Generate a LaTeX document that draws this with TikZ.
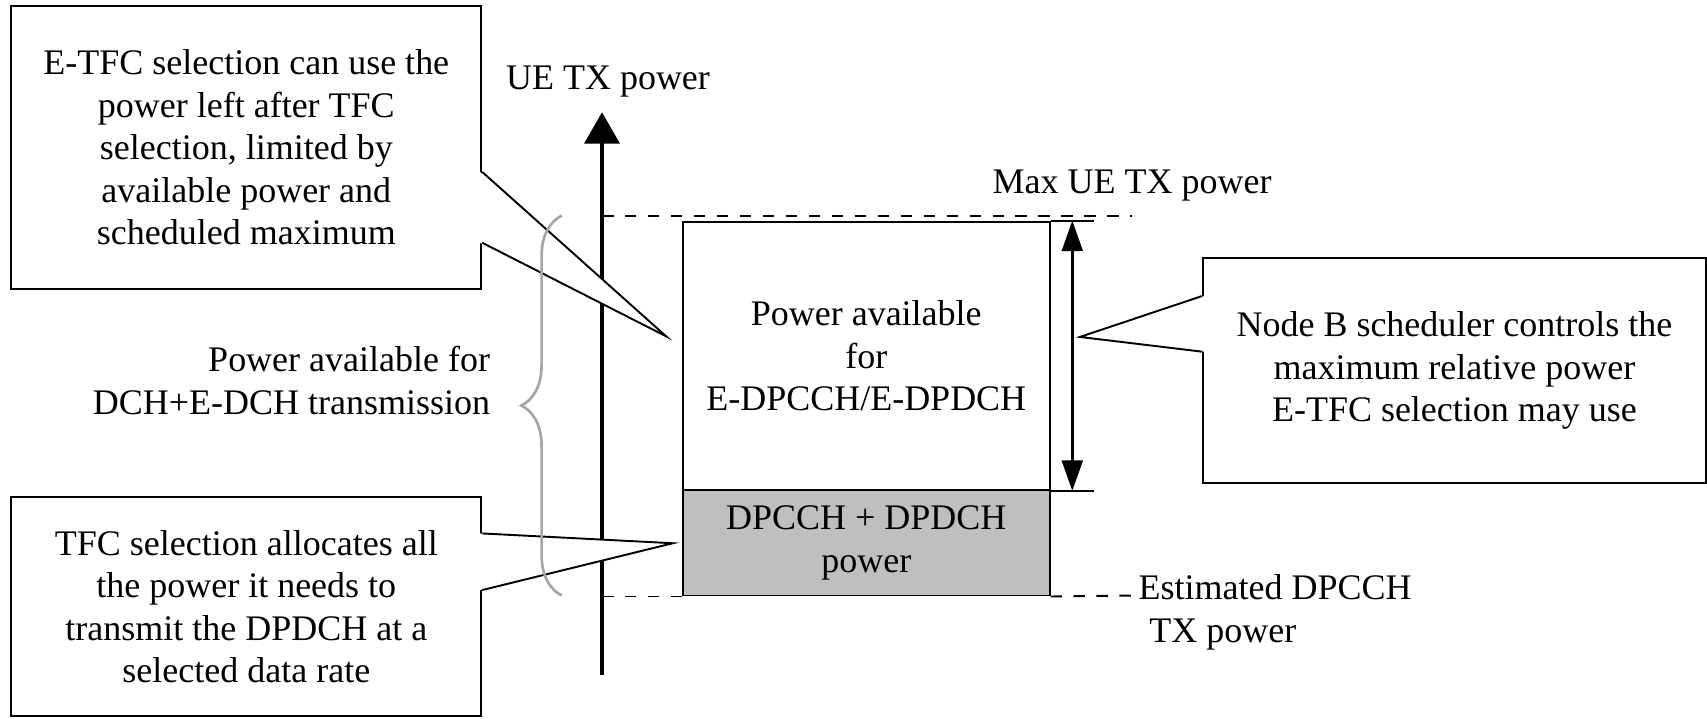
\documentclass[tikz,border=0pt]{standalone}
\usepackage{fontspec}
\setmainfont{Liberation Serif}
\usetikzlibrary{arrows.meta,calc,decorations.pathreplacing}

\begin{document}
\begin{tikzpicture}[x=0.01cm,y=-0.01cm,line width=0.5pt,font=\fontsize{9.4}{11.1}\selectfont,
box/.style={draw,align=center,inner sep=0pt},
note/.style={box,fill=white},
lbl/.style={inner sep=0pt},
tail/.style={fill=white},
guide/.style={dashed},
axis/.style={-{Triangle[length=0.29cm,width=0.32cm]},line width=1.2pt},
span/.style={{Triangle[length=0.28cm,width=0.19cm]}-{Triangle[length=0.28cm,width=0.19cm]},line width=0.8pt},
brace/.style={decorate,decoration={brace,amplitude=0.37cm},draw=black!35,line width=0.7pt}]
\useasboundingbox (0,0) rectangle (1568,660);
\coordinate (ybot) at (553,620);
\coordinate (ytop) at (553,103);
\draw[axis] (ybot)--(ytop);
\node[lbl,anchor=west] (ylabel) at (464,75) {UE TX power};
\node[box,minimum width=3.365cm,minimum height=2.464cm] (epwr) at (795.75,326.8) {Power available\\for\\E-DPCCH/E-DPDCH};
\node[box,fill=black!25,minimum width=3.365cm,minimum height=0.97cm] (dpwr) at (795.75,498.5) {DPCCH + DPDCH\\power};
\coordinate (maxend) at (1040,198);
\coordinate (estend) at (1042,547);
\draw[guide] (ytop |- maxend)--(maxend);
\draw[guide] (ytop |- dpwr.south)--(dpwr.south west);
\draw[guide] (dpwr.south east)--(estend);
\node[lbl,anchor=west] (maxlbl) at (911,170) {Max UE TX power};
\node[lbl,anchor=west,align=left] (estlbl) at (1045,562.5) {Estimated DPCCH\\\hspace*{0.1cm}TX power};
\draw (epwr.north east)--+(40,0);
\draw (epwr.south east)--+(40,0);
\draw[span] ([xshift=0.2cm]epwr.north east)--([xshift=0.2cm]epwr.south east);
\node[note,minimum width=4.315cm,minimum height=2.595cm] (etfc) at (226.25,135.25) {E-TFC selection can use the\\power left after TFC\\selection, limited by\\available power and\\scheduled maximum};
\coordinate (etfctip) at (612,309);
\fill[tail] ($(etfc.east |- 0,158)+(-2,0)$)--(etfctip)--($(etfc.east |- 0,223)+(-2,0)$)--cycle;
\draw (etfc.east |- 0,158)--(etfctip)--(etfc.east |- 0,223);
\node[note,minimum width=4.315cm,minimum height=2.015cm] (tfc) at (226.25,557.25) {TFC selection allocates all\\the power it needs to\\transmit the DPDCH at a\\selected data rate};
\coordinate (tfctip) at (618,499);
\fill[tail] ($(tfc.east |- 0,490)+(-2,0)$)--(tfctip)--($(tfc.east |- 0,542)+(-2,0)$)--cycle;
\draw (tfc.east |- 0,490)--(tfctip)--(tfc.east |- 0,542);
\node[note,minimum width=4.62cm,minimum height=2.066cm] (nodeb) at (1336,340.3) {Node B scheduler controls the\\maximum relative power\\E-TFC selection may use};
\coordinate (nodebtip) at (992,309.5);
\fill[tail] ($(nodeb.west |- 0,272)+(2,0)$)--(nodebtip)--($(nodeb.west |- 0,323)+(2,0)$)--cycle;
\draw (nodeb.west |- 0,272)--(nodebtip)--(nodeb.west |- 0,323);
\coordinate (bracetop) at (516,198);
\coordinate (bracebot) at (516,547);
\draw[brace] (bracebot)--(bracetop);
\node[lbl,anchor=east,align=right] (dchlbl) at (451,349.5) {Power available for\\DCH+E-DCH transmission};
\end{tikzpicture}
\end{document}
